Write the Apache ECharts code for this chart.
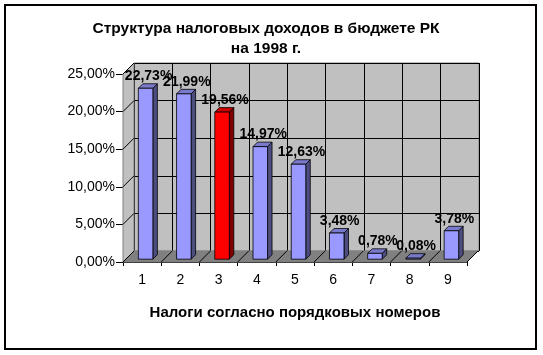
<!DOCTYPE html>
<html>
<head>
<meta charset="utf-8">
<script src="https://cdn.jsdelivr.net/npm/echarts@6/dist/echarts.min.js"></script>
<style>
  html, body { margin: 0; padding: 0; background: #fff; }
  #chart { width: 543px; height: 355px; }
</style>
</head>
<body>
<div id="chart"></div>
<script>
const categories = ['1', '2', '3', '4', '5', '6', '7', '8', '9']
const shares = [0.2273, 0.2199, 0.1956, 0.1497, 0.1263, 0.0348, 0.0078, 0.0008, 0.0378]
const highlighted = [2]
const yTicks = [0, 0.05, 0.10, 0.15, 0.20, 0.25]

const FONT = 'Arial, "Liberation Sans", sans-serif'
// front plane and back wall offset (fake 3D like the old excel chart)
const FRONT = { left: 123, top: 74, width: 344, height: 188 }
const WALL = [11, -11]
const BAR_OFF = [3.5, -2.8]
const BAR_DEPTH = [4.5, -4.5]

function pct(v) {
  return (v * 100).toFixed(2).replace('.', ',') + '%'
}

function renderWalls(params, api) {
  const band = api.size([1, 0])[0]
  const xL = api.coord([0, 0])[0] - band / 2
  const xR = api.coord([categories.length - 1, 0])[0] + band / 2
  const y0 = api.coord([0, 0])[1]
  const yT = api.coord([0, yTicks[yTicks.length - 1]])[1]
  const dx = WALL[0], dy = WALL[1]
  const children = [
    { type: 'polygon', shape: { points: [[xL, y0], [xL, yT], [xL + dx, yT + dy], [xL + dx, y0 + dy]] },
      style: { fill: '#c0c0c0', stroke: '#808080', lineWidth: 1 } },
    { type: 'polygon', shape: { points: [[xL, y0], [xR, y0], [xR + dx, y0 + dy], [xL + dx, y0 + dy]] },
      style: { fill: '#808080', stroke: '#808080', lineWidth: 1 } }
  ]
  for (const t of yTicks) {
    const y = api.coord([0, t])[1]
    children.push({ type: 'line', shape: { x1: xL, y1: y, x2: xL + dx, y2: y + dy },
      style: { stroke: '#000', lineWidth: 1 } })
  }
  for (let i = 0; i <= categories.length; i++) {
    const x = xL + band * i
    children.push({ type: 'line', shape: { x1: x, y1: y0, x2: x + dx, y2: y0 + dy },
      style: { stroke: '#000', lineWidth: 1 } })
  }
  return { type: 'group', children: children }
}

function renderBar(params, api) {
  const idx = api.value(0)
  const val = api.value(1)
  const band = api.size([1, 0])[0]
  const w = band * 0.38
  const base = api.coord([idx, 0])
  const top = api.coord([idx, val])
  const cx = base[0] + BAR_OFF[0]
  const yb = base[1] + BAR_OFF[1]
  const yt = Math.min(top[1] + BAR_OFF[1], yb - 1)
  const l = cx - w / 2, r = cx + w / 2
  const dx = BAR_DEPTH[0], dy = BAR_DEPTH[1]
  const red = highlighted.indexOf(idx) >= 0
  const c = red ? ['#ff0000', '#800000', '#cc0000'] : ['#9999ff', '#4d4d80', '#7a7acc']
  const edge = { stroke: '#000', lineWidth: 0.8 }
  return {
    type: 'group',
    children: [
      { type: 'polygon', shape: { points: [[r, yt], [r + dx, yt + dy], [r + dx, yb + dy], [r, yb]] },
        style: Object.assign({ fill: c[1] }, edge) },
      { type: 'polygon', shape: { points: [[l, yt], [l + dx, yt + dy], [r + dx, yt + dy], [r, yt]] },
        style: Object.assign({ fill: c[2] }, edge) },
      { type: 'rect', shape: { x: l, y: yt, width: w, height: yb - yt },
        style: Object.assign({ fill: c[0] }, edge) },
      { type: 'text', style: { text: pct(val), x: cx + 3, y: yt - 12, align: 'center', verticalAlign: 'middle',
        font: 'bold 14px ' + FONT, fill: '#000' } }
    ]
  }
}

const chart = echarts.init(document.getElementById('chart'), null, { renderer: 'canvas' })
chart.setOption({
  animation: false,
  backgroundColor: '#fff',
  title: {
    text: 'Структура налоговых доходов в бюджете РК\nна 1998 г.',
    left: 261,
    top: 14,
    textAlign: 'center',
    textStyle: { fontFamily: FONT, fontSize: 15.5, fontWeight: 'bold', color: '#000', lineHeight: 20 }
  },
  graphic: [
    { type: 'rect', shape: { x: 5, y: 5, width: 531, height: 344 },
      style: { fill: 'none', stroke: '#000', lineWidth: 2 }, z: 100 }
  ],
  grid: [
    { left: FRONT.left + WALL[0], top: FRONT.top + WALL[1], width: FRONT.width + 1, height: FRONT.height,
      show: true, backgroundColor: '#c0c0c0', borderColor: '#808080', borderWidth: 1 },
    { left: FRONT.left, top: FRONT.top, width: FRONT.width, height: FRONT.height }
  ],
  xAxis: [
    { gridIndex: 0, type: 'category', data: categories, boundaryGap: true,
      axisLine: { show: false }, axisTick: { show: false }, axisLabel: { show: false },
      splitLine: { show: true, lineStyle: { color: '#000', width: 1 } } },
    { gridIndex: 1, type: 'category', data: categories, boundaryGap: true,
      name: 'Налоги согласно порядковых номеров', nameLocation: 'middle', nameGap: 43,
      nameTextStyle: { fontFamily: FONT, fontSize: 15, fontWeight: 'bold', color: '#000' },
      axisLine: { show: true, lineStyle: { color: '#000', width: 1 } },
      axisTick: { show: true, length: 4, lineStyle: { color: '#000' } },
      axisLabel: { margin: 11, fontFamily: FONT, fontSize: 14, color: '#000' },
      splitLine: { show: false } }
  ],
  yAxis: [
    { gridIndex: 0, type: 'value', min: 0, max: 0.25, interval: 0.05,
      axisLine: { show: false }, axisTick: { show: false }, axisLabel: { show: false },
      splitLine: { show: true, lineStyle: { color: '#000', width: 1 } } },
    { gridIndex: 1, type: 'value', min: 0, max: 0.25, interval: 0.05,
      axisLine: { show: true, lineStyle: { color: '#000', width: 1 } },
      axisTick: { show: true, length: 7, lineStyle: { color: '#000' } },
      axisLabel: { margin: 8, fontFamily: FONT, fontSize: 14, color: '#000', formatter: pct },
      splitLine: { show: false } }
  ],
  series: [
    { type: 'custom', xAxisIndex: 1, yAxisIndex: 1, z: 1, silent: true,
      renderItem: renderWalls, data: [[0, 0]] },
    { type: 'custom', xAxisIndex: 1, yAxisIndex: 1, z: 3, silent: true,
      renderItem: renderBar, data: shares.map((v, i) => [i, v]) }
  ]
})
</script>
</body>
</html>
